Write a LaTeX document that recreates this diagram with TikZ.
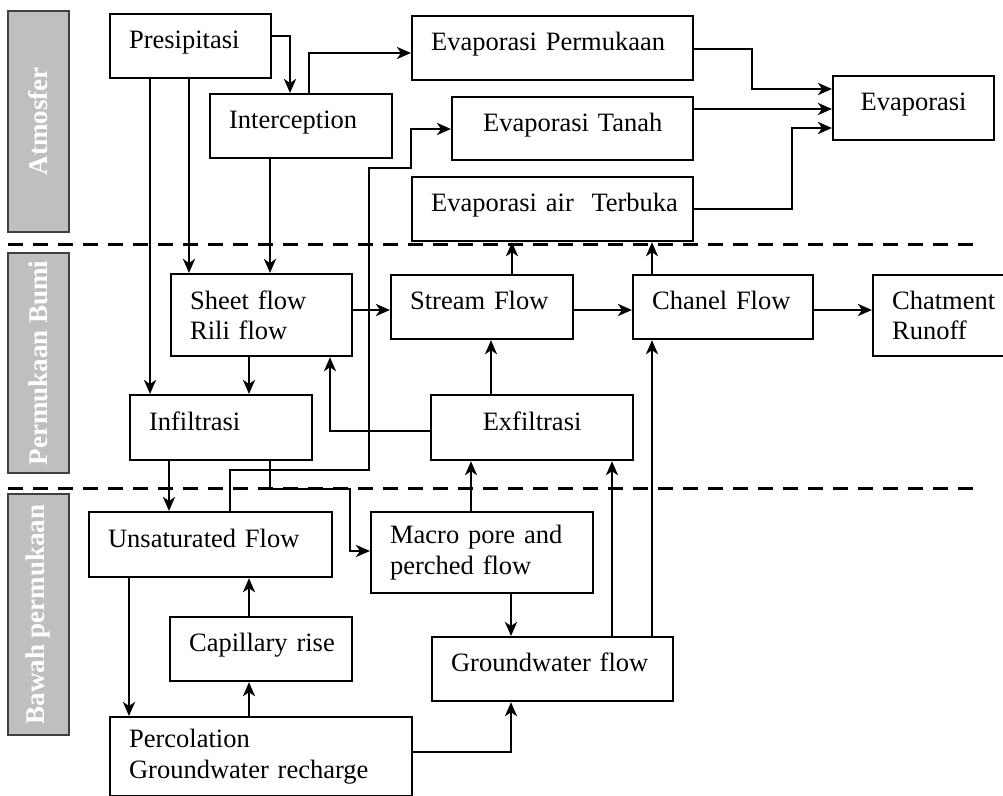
\documentclass[tikz,border=0pt]{standalone}
\usepackage{fontspec}
\setmainfont{Liberation Serif}
\usetikzlibrary{arrows.meta}

\begin{document}
\begin{tikzpicture}[
x=0.5pt, y=-0.5pt,
font=\fontsize{13.25}{15.2}\selectfont,
stage/.style={rectangle, draw=black, line width=1.1pt, anchor=north west, inner xsep=9.5pt, inner ysep=0pt, align=left},
oneline/.style={text height=0.7em, text depth=0.45em},
zone/.style={rectangle, draw=black!75, fill=black!25, line width=0.8pt, rotate=90, inner sep=0pt, text=white, font=\fontsize{13.5}{15.2}\selectfont\bfseries},
flow/.style={-{Stealth[length=7pt, width=6pt, inset=2pt]}, line width=1.4pt},
border/.style={dash pattern=on 7.5pt off 5pt, line width=1.5pt}]

\useasboundingbox (0,0) rectangle (1003,796);
\clip (0,0) rectangle (1003,796);

% layers
\node[zone, minimum width=110.5pt, minimum height=30.5pt] (atm) at (38.5,121.5) {Atmosfer};
\node[zone, minimum width=110pt, minimum height=30.5pt] (perm) at (38.5,363) {Permukaan Bumi};
\node[zone, minimum width=120.5pt, minimum height=30.5pt] (bawah) at (38.5,614.5) {Bawah permukaan};
\draw[border] (8,245) -- (982,245);
\draw[border] (8,489) -- (982,489);

% atmosfer
\node[stage, oneline, text width=61.5pt, minimum height=32pt] (presip) at (109,13) {Presipitasi};
\node[stage, oneline, text width=72pt, minimum height=32pt] (intercep) at (209,93) {Interception};
\node[stage, oneline, text width=121.5pt, minimum height=32pt] (evperm) at (411,15) {\mbox{Evaporasi Permukaan}};
\node[stage, oneline, inner xsep=15.5pt, text width=89.5pt, minimum height=31.5pt] (evtanah) at (451,96) {\mbox{Evaporasi Tanah}};
\node[stage, oneline, text width=121.5pt, minimum height=32pt] (evair) at (411,176) {\mbox{Evaporasi air\ \ Terbuka}};
\node[stage, oneline, align=center, text width=61.5pt, minimum height=32pt] (evap) at (832,75) {Evaporasi};

% permukaan bumi
\node[stage, text width=71.5pt, minimum height=41pt] (sheet) at (170,273) {\mbox{Sheet flow}\\\mbox{Rili flow}};
\node[stage, oneline, text width=72pt, minimum height=32pt] (stream) at (390,274) {\mbox{Stream Flow}};
\node[stage, oneline, text width=71pt, minimum height=32pt] (chanel) at (632,274) {\mbox{Chanel Flow}};
\node[stage, text width=51pt, minimum height=40.5pt] (runoff) at (872,274) {\mbox{Chatment}\\\mbox{Runoff}};
\node[stage, oneline, text width=72pt, minimum height=32.5pt] (infil) at (129,394) {Infiltrasi};
\node[stage, oneline, align=center, text width=82pt, minimum height=32.5pt] (exfil) at (430,394) {Exfiltrasi};

% bawah permukaan
\node[stage, oneline, text width=102.5pt, minimum height=32.5pt] (unsat) at (88,511) {\mbox{Unsaturated Flow}};
\node[stage, text width=92pt, minimum height=40.5pt] (macro) at (370,511) {\mbox{Macro pore and}\\\mbox{perched flow}};
\node[stage, oneline, text width=72pt, minimum height=32pt] (capil) at (169,616) {\mbox{Capillary rise}};
\node[stage, oneline, text width=101.5pt, minimum height=32pt] (gwflow) at (431,636) {\mbox{Groundwater flow}};
\node[stage, text width=132pt, minimum height=39.5pt] (perc) at (109,716) {\mbox{Percolation}\\\mbox{Groundwater recharge}};

% evaporation side
\draw[flow] (presip.east |- 0,36) -| (290,0 |- intercep.north);
\draw[flow] (309,0 |- intercep.north) |- (evperm.west |- 0,53);
\draw[flow] (unsat.north -| 230,0) |- (369,470) |- (411,168) |- (evtanah.west |- 0,129);
\draw[flow] (evperm.east |- 0,49) -| (752,89) -- (evap.west |- 0,89);
\draw[flow] (evtanah.east |- 0,109) -- (evap.west |- 0,109);
\draw[flow] (evair.east |- 0,209) -| (792,128) -- (evap.west |- 0,128);
\draw[flow] (stream.north -| 512,0) -- (evair.south -| 512,0);
\draw[flow] (chanel.north -| 652,0) -- (evair.south -| 652,0);

% surface
\draw[flow] (presip.south -| 150,0) -- (infil.north -| 150,0);
\draw[flow] (presip.south -| 189,0) -- (sheet.north -| 189,0);
\draw[flow] (intercep.south -| 270,0) -- (sheet.north -| 270,0);
\draw[flow] (sheet.east |- 0,310) -- (stream.west |- 0,310);
\draw[flow] (stream.east |- 0,310) -- (chanel.west |- 0,310);
\draw[flow] (chanel.east |- 0,310) -- (runoff.west |- 0,310);
\draw[flow] (sheet.south -| 249,0) -- (infil.north -| 249,0);
\draw[flow] (exfil.west |- 0,431) -| (sheet.south -| 330,0);
\draw[flow] (exfil.north -| 491,0) -- (stream.south -| 491,0);

% subsurface
\draw[flow] (infil.south -| 169,0) -- (unsat.north -| 169,0);
\draw[flow] (infil.south -| 270,0) |- (350,489) |- (macro.west |- 0,551);
\draw[flow] (macro.north -| 471,0) -- (exfil.south -| 471,0);
\draw[flow] (unsat.south -| 129,0) -- (perc.north -| 129,0);
\draw[flow] (capil.north -| 249,0) -- (unsat.south -| 249,0);
\draw[flow] (perc.north -| 249,0) -- (capil.south -| 249,0);
\draw[flow] (macro.south -| 511,0) -- (gwflow.north -| 511,0);
\draw[flow] (gwflow.north -| 612,0) -- (exfil.south -| 612,0);
\draw[flow] (gwflow.north -| 652,0) -- (chanel.south -| 652,0);
\draw[flow] (perc.east |- 0,752) -| (gwflow.south -| 511,0);
\end{tikzpicture}
\end{document}
